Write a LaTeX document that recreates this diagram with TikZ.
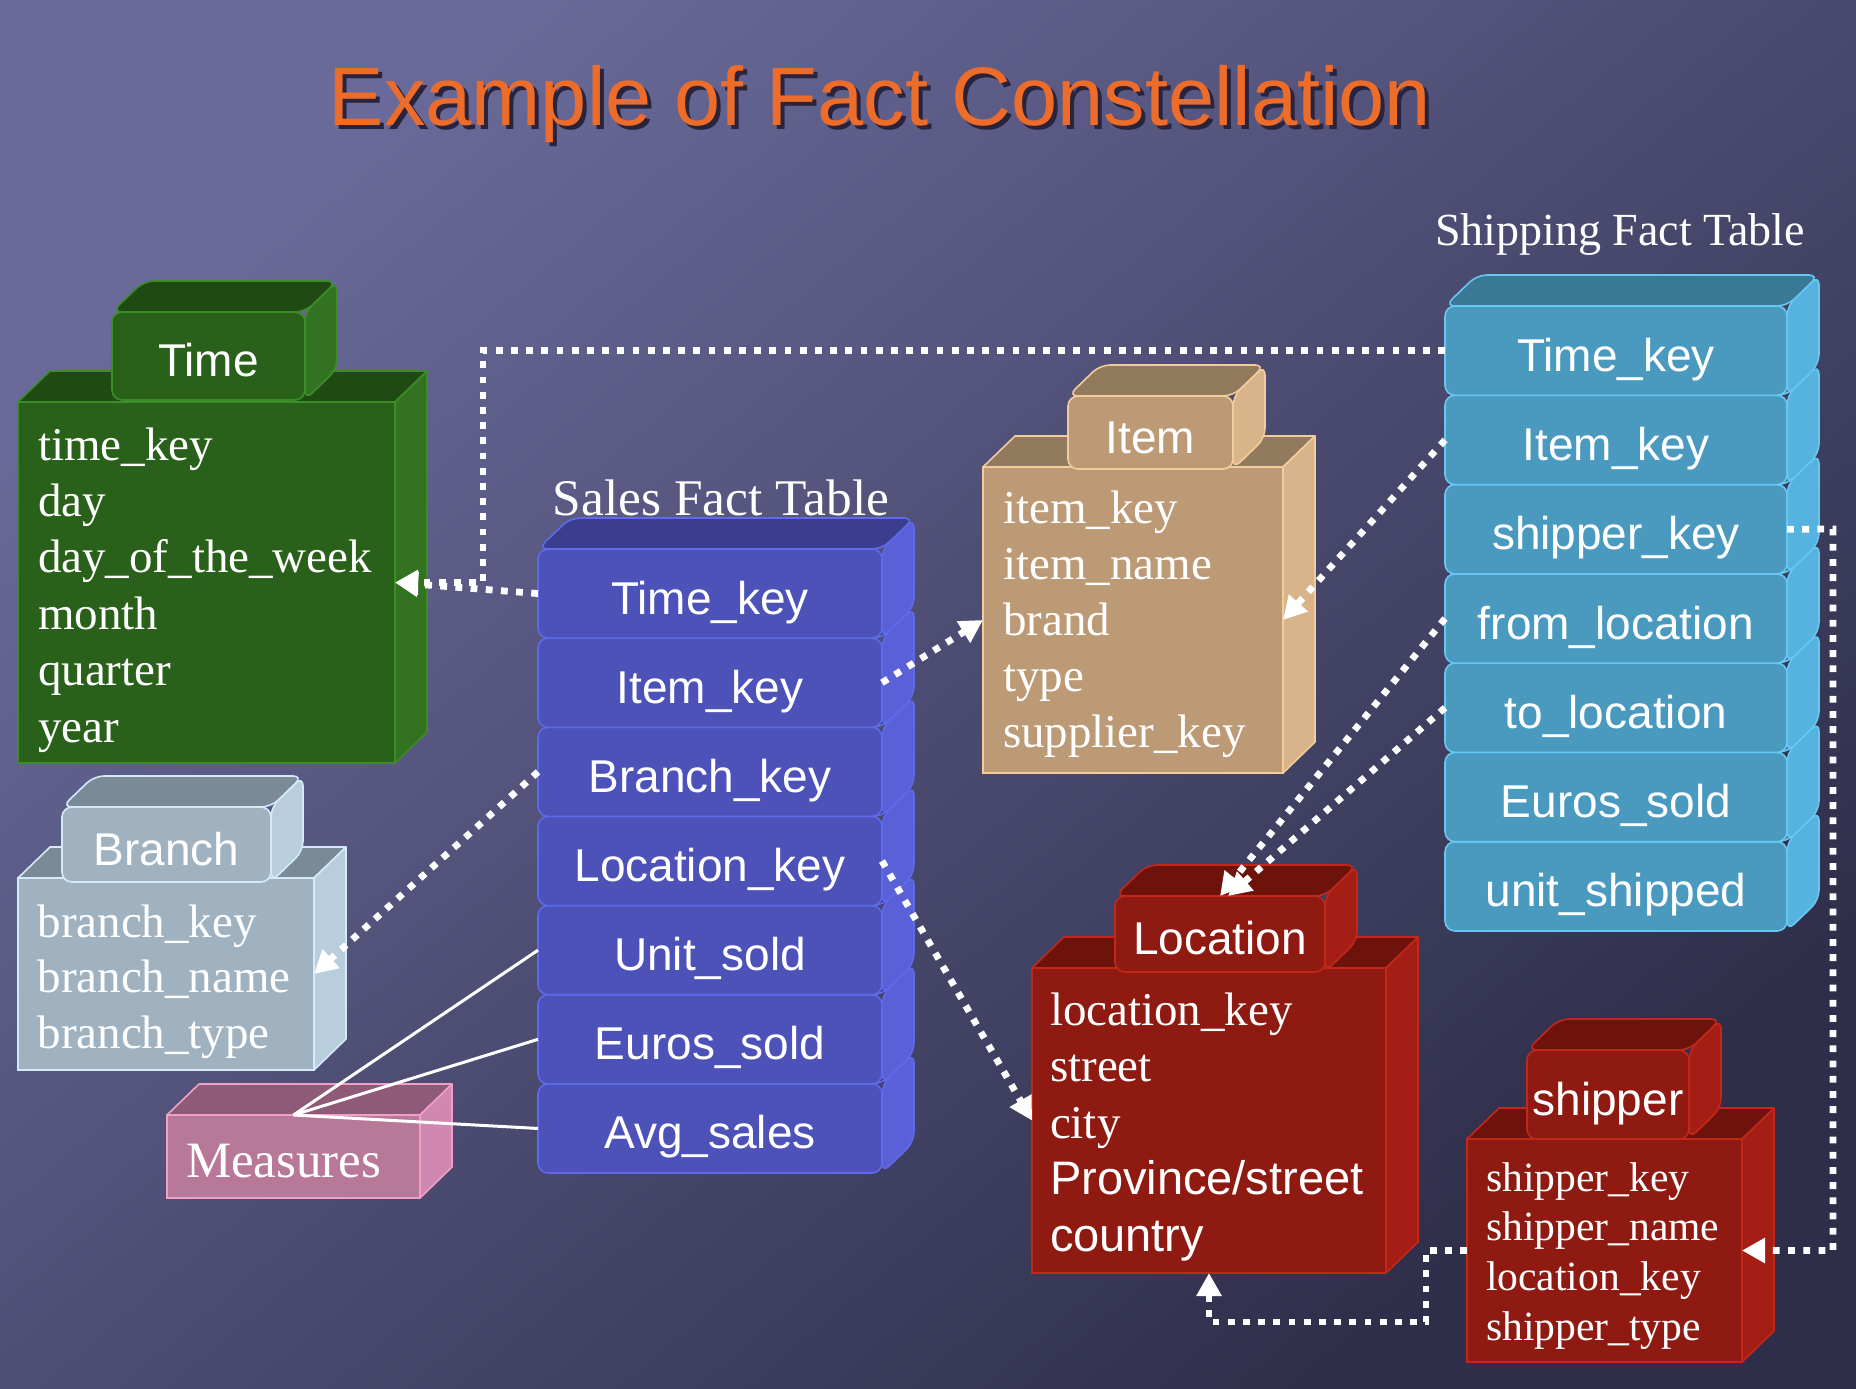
\documentclass[tikz,border=0pt]{standalone}
\usepackage{fontspec}
\setmainfont{Liberation Serif}
\setsansfont{Liberation Sans}
\usetikzlibrary{arrows.meta,calc}

% palette
\definecolor{bgA}{RGB}{106,106,154}
\definecolor{bgB}{RGB}{46,46,74}
\definecolor{titleorange}{RGB}{238,108,42}
\definecolor{titleshade}{RGB}{40,36,62}
% time (green)
\definecolor{grnfront}{RGB}{42,97,26}
\definecolor{grntop}{RGB}{31,74,19}
\definecolor{grnside}{RGB}{50,114,33}
\definecolor{grnedge}{RGB}{60,140,42}
% sales (blue)
\definecolor{blufront}{RGB}{76,82,184}
\definecolor{blutop}{RGB}{59,62,142}
\definecolor{bluside}{RGB}{90,96,216}
\definecolor{bluedge}{RGB}{94,106,234}
% shipping (cyan)
\definecolor{cynfront}{RGB}{74,154,192}
\definecolor{cyntop}{RGB}{58,120,150}
\definecolor{cynside}{RGB}{86,178,222}
\definecolor{cynedge}{RGB}{104,198,242}
% item (tan)
\definecolor{tanfront}{RGB}{188,154,118}
\definecolor{tantop}{RGB}{146,122,94}
\definecolor{tanside}{RGB}{216,180,138}
\definecolor{tanedge}{RGB}{242,204,154}
% branch (grey-blue)
\definecolor{gryfront}{RGB}{160,178,192}
\definecolor{grytop}{RGB}{122,138,150}
\definecolor{gryside}{RGB}{184,206,220}
\definecolor{gryedge}{RGB}{212,234,250}
% location / shipper (red)
\definecolor{redfront}{RGB}{142,26,18}
\definecolor{redtop}{RGB}{110,18,12}
\definecolor{redside}{RGB}{164,30,22}
\definecolor{rededge}{RGB}{194,40,26}
% measures (pink)
\definecolor{pnkfront}{RGB}{184,120,152}
\definecolor{pnktop}{RGB}{142,90,120}
\definecolor{pnkside}{RGB}{208,136,176}
\definecolor{pnkedge}{RGB}{240,160,200}

% depth of every block
\newcommand\bxdx{32}
\newcommand\bxdy{31}

% flat-fronted block: #1 name, #2 palette, #3 x1, #4 y1, #5 x2, #6 y2
\newcommand\dimbody[6]{%
  \path[fill=#2top, draw=#2edge, line width=.8pt, line join=round]
    (#3,#4) -- ({#3+\bxdx},{#4-\bxdy}) -- ({#5+\bxdx},{#4-\bxdy}) -- (#5,#4) -- cycle;
  \path[fill=#2side, draw=#2edge, line width=.8pt, line join=round]
    (#5,#4) -- ({#5+\bxdx},{#4-\bxdy}) -- ({#5+\bxdx},{#6-\bxdy}) -- (#5,#6) -- cycle;
  \node[face, fill=#2front, draw=#2edge,
        minimum width={(#5-#3)*0.5pt}, minimum height={(#6-#4)*0.5pt}]
        (#1) at ({(#3+#5)/2},{(#4+#6)/2}) {};
}

% rounded block with a centred label: #1 name, #2 palette, #3..#6 box, #7 label, #8 style
\newcommand\roundblock[8]{%
  \path[fill=#2side, draw=#2edge, line width=.8pt, rounded corners=5pt]
    (#5,#4) -- ({#5+\bxdx},{#4-\bxdy}) -- ({#5+\bxdx},{#6-\bxdy}) -- (#5,#6) -- cycle;
  \path[fill=#2top, draw=#2edge, line width=.8pt, rounded corners=5pt]
    (#3,#4) -- ({#3+\bxdx},{#4-\bxdy}) -- ({#5+\bxdx},{#4-\bxdy}) -- (#5,#4) -- cycle;
  \node[#8, fill=#2front, draw=#2edge,
        minimum width={(#5-#3)*0.5pt}, minimum height={(#6-#4)*0.5pt}]
        (#1) at ({(#3+#5)/2},{(#4+#6)/2}) {#7};
}

% attribute list: #1 name prefix, #2 x, #3 first baseline, #4 line step, #5 style, #6 entries
\newcommand\attrlines[6]{%
  \foreach \attxt [count=\attn] in {#6} {
    \node[#5, anchor=base west] (#1-\attn) at (#2, {#3+(\attn-1)*#4}) {\attxt};
  }
}

% heading text with its drop shadow set in the same box
\newcommand\shadowed[1]{%
  \makebox[0pt][l]{\kern2pt\raisebox{-2pt}{\textcolor{titleshade}{#1}}}%
  \textcolor{titleorange}{#1}}

\begin{document}
\begin{tikzpicture}[x=0.5pt, y=-0.5pt,
  every node/.style={inner sep=0pt, outer sep=0pt},
  face/.style={rectangle, line width=.8pt},
  labelbox/.style={rectangle, rounded corners=5pt, line width=.8pt, text=white,
    font=\sffamily\fontsize{23pt}{27pt}\selectfont, text height=20.5pt, text depth=0pt},
  attr/.style={text=white, font=\fontsize{23.5pt}{28pt}\selectfont},
  smallattr/.style={text=white, font=\fontsize{20.8pt}{25pt}\selectfont},
  link/.style={draw=white, line width=3.4pt, dash pattern=on 3.4pt off 4.2pt,
    -{Triangle[length=11.5pt,width=12pt]}},
  measline/.style={draw=white, line width=1.5pt}]

\useasboundingbox (0,0) rectangle (1856,1388);
\shade[shading=axis, top color=bgA, bottom color=bgB, shading angle=40]
  (0,0) rectangle (1856,1388);

% heading
\node[anchor=base, font=\sffamily\fontsize{41.5pt}{48pt}\selectfont]
  (title) at (880,125) {\shadowed{Example of Fact Constellation}};

\node[anchor=base, text=white, font=\fontsize{25.7pt}{30pt}\selectfont]
  (salestitle) at (721,515) {Sales Fact Table};
\node[anchor=base, text=white, font=\fontsize{23pt}{28pt}\selectfont]
  (shiptitle) at (1620,245) {Shipping Fact Table};

% Time dimension
\dimbody{time}{grn}{18}{402}{395}{763}
\roundblock{timetab}{grn}{112}{312}{305}{400}{Time}{labelbox}
\attrlines{timeattr}{38}{460}{56.4}{attr}{time\_key,day,day\_of\_the\_week,month,quarter,year}

% Branch dimension
\dimbody{branch}{gry}{18}{878}{314}{1070}
\roundblock{branchtab}{gry}{62}{807}{271}{882}{Branch}{labelbox}
\attrlines{branchattr}{37.5}{937}{55.5}{attr}{branch\_key,branch\_name,branch\_type}

% Measures block
\dimbody{meas}{pnk}{167}{1115}{420}{1198}
\node[anchor=base west, text=white, font=\fontsize{25.5pt}{30pt}\selectfont]
  (meastext) at (186,1177) {Measures};

% Sales fact table, drawn bottom row first
\roundblock{sr7}{blu}{538}{1083.9}{882}{1173}{Avg\_sales}{labelbox}
\roundblock{sr6}{blu}{538}{994.7}{882}{1083.9}{Euros\_sold}{labelbox}
\roundblock{sr5}{blu}{538}{905.6}{882}{994.7}{Unit\_sold}{labelbox}
\roundblock{sr4}{blu}{538}{816.4}{882}{905.6}{Location\_key}{labelbox}
\roundblock{sr3}{blu}{538}{727.3}{882}{816.4}{Branch\_key}{labelbox}
\roundblock{sr2}{blu}{538}{638.1}{882}{727.3}{Item\_key}{labelbox}
\roundblock{sr1}{blu}{538}{549}{882}{638.1}{Time\_key}{labelbox}

% Item dimension
\dimbody{item}{tan}{983}{467}{1283}{773}
\roundblock{itemtab}{tan}{1068}{396}{1233}{469}{Item}{labelbox}
\attrlines{itemattr}{1003}{523}{56.2}{attr}{item\_key,item\_name,brand,type,supplier\_key}

% Shipping fact table, drawn bottom row first
\roundblock{shr7}{cyn}{1445}{841.7}{1787}{931}{unit\_shipped}{labelbox}
\roundblock{shr6}{cyn}{1445}{752.4}{1787}{841.7}{Euros\_sold}{labelbox}
\roundblock{shr5}{cyn}{1445}{663.1}{1787}{752.4}{to\_location}{labelbox}
\roundblock{shr4}{cyn}{1445}{573.9}{1787}{663.1}{from\_location}{labelbox}
\roundblock{shr3}{cyn}{1445}{484.6}{1787}{573.9}{shipper\_key}{labelbox}
\roundblock{shr2}{cyn}{1445}{395.3}{1787}{484.6}{Item\_key}{labelbox}
\roundblock{shr1}{cyn}{1445}{306}{1787}{395.3}{Time\_key}{labelbox}

% Location dimension
\dimbody{loc}{red}{1032}{968}{1386}{1273}
\roundblock{loctab}{red}{1115}{896}{1325}{972}{Location}{labelbox}
\attrlines{locattr}{1050}{1025}{56.5}{attr}{location\_key,street,city,{\sffamily Province/street},{\sffamily country}}

% Shipper dimension
\dimbody{shipper}{red}{1467}{1139}{1742}{1362}
\roundblock{shippertab}{red}{1527}{1050}{1689}{1139}{shipper}{labelbox}
\attrlines{shipattr}{1486}{1191}{49.7}{smallattr}{shipper\_key,shipper\_name,location\_key,shipper\_type}

% bend points of the routed links
\coordinate (timebend) at (483,352);
\coordinate (shipbend) at (1833,529);
\coordinate (locbend) at (1426,1322);

% measures fan
\draw[measline] (meas.north) -- (sr5.west);
\draw[measline] (meas.north) -- (sr6.west);
\draw[measline] (meas.north) -- (sr7.west);

% key links
\draw[link] (shr1.west) -| (timebend |- time.east) -- (time.east);
\draw[link] (sr1.west) -- (time.east);
\draw[link] (sr2.east) -- (item.west);
\draw[link] (shr2.west) -- (item.east);
\draw[link] (sr3.west) -- (branch.east);
\draw[link] (sr4.east) -- (loc.west);
\draw[link] (shr4.west) -- (loctab.north);
\draw[link] (shr5.west) -- ([xshift=4pt]loctab.north);
\draw[link] (shr3.east) -- (shipbend) |- (shipper.east);
\draw[link] (shipper.west) -| (locbend) -| (loc.south);

\end{tikzpicture}
\end{document}
